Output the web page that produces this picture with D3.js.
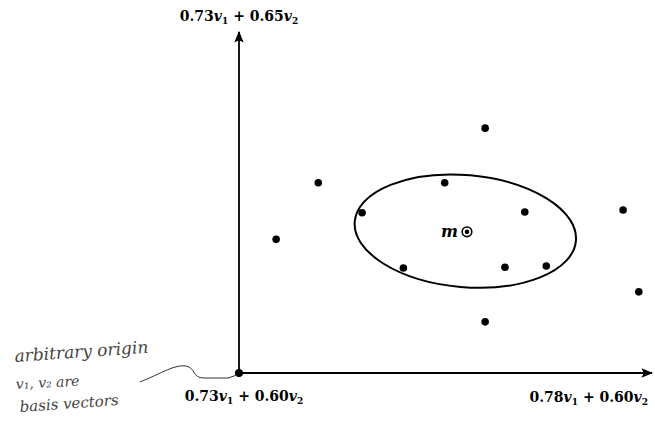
<!DOCTYPE html>
<html>
<head>
<meta charset="utf-8">
<script src="https://cdn.jsdelivr.net/npm/d3@7"></script>
<style>
  body { margin: 0; background: #fff; }
  svg { display: block; }
</style>
</head>
<body>
<div id="chart"></div>
<script>
// coefficient of v1 (horizontal) and v2 (vertical) for each sample point
var ptsV1 = [0.7345, 0.7396, 0.7449, 0.7499, 0.7549, 0.7598, 0.7598, 0.7622, 0.7646, 0.7672, 0.7765, 0.7784];
var ptsV2 = [0.6196, 0.6279, 0.6235, 0.6154, 0.6279, 0.6359, 0.6075, 0.6155, 0.6236, 0.6157, 0.6239, 0.6119];

var meanPt = [0.7576, 0.6207];
// ellipse: centre, half widths (in v1 / v2 units), tilt in degrees
var ellCentre = [0.7574, 0.6208];
var ellHalf = [0.01344, 0.00821];
var ellTilt = 5;

var v1Range = [0.73, 0.78];
var v2Range = [0.60, 0.65];
var originLabel = ["0.73", "1", "0.60", "2"];
var xEndLabel = ["0.78", "1", "0.60", "2"];
var yEndLabel = ["0.73", "1", "0.65", "2"];
var notes = ["arbitrary origin", "v\u2081, v\u2082 are", "basis vectors"];

var W = 655, H = 438;
var x = d3.scaleLinear().domain(v1Range).range([239, 652]);
var y = d3.scaleLinear().domain(v2Range).range([373, 32]);

var svg = d3.select("#chart").append("svg")
    .attr("width", W)
    .attr("height", H);

// arrow heads
var defs = svg.append("defs");
defs.append("marker")
    .attr("id", "arr")
    .attr("viewBox", "0 0 10 10")
    .attr("refX", 9).attr("refY", 5)
    .attr("markerWidth", 6.5).attr("markerHeight", 6.5)
    .attr("markerUnits", "strokeWidth")
    .attr("orient", "auto")
  .append("path")
    .attr("d", "M0,1 L10,5 L0,9 L2,5 Z")
    .attr("fill", "#000");

// axes
svg.append("line")
    .attr("x1", x(v1Range[0])).attr("y1", y(v2Range[0]))
    .attr("x2", x(v1Range[1])).attr("y2", y(v2Range[0]))
    .attr("stroke", "#000").attr("stroke-width", 1.8)
    .attr("marker-end", "url(#arr)");
svg.append("line")
    .attr("x1", x(v1Range[0])).attr("y1", y(v2Range[0]))
    .attr("x2", x(v1Range[0])).attr("y2", y(v2Range[1]))
    .attr("stroke", "#000").attr("stroke-width", 1.8)
    .attr("marker-end", "url(#arr)");

// labels like 0.73v1 + 0.60v2
function vecLabel(parts, px, py, anchor) {
  var t = svg.append("text")
      .attr("x", px).attr("y", py)
      .attr("text-anchor", anchor)
      .attr("font-family", "DejaVu Serif")
      .attr("font-weight", "bold")
      .attr("font-size", 14);
  t.append("tspan").text(parts[0]);
  t.append("tspan").attr("font-style", "italic").text("v");
  t.append("tspan").attr("font-size", 9).attr("dy", 3).text(parts[1]);
  t.append("tspan").attr("dy", -3).text("\u00a0+\u00a0" + parts[2]);
  t.append("tspan").attr("font-style", "italic").text("v");
  t.append("tspan").attr("font-size", 9).attr("dy", 3).text(parts[3]);
}
vecLabel(yEndLabel, x(v1Range[0]), 21, "middle");
vecLabel(originLabel, x(v1Range[0]) + 5, 401, "middle");
vecLabel(xEndLabel, x(v1Range[1]) - 4, 402, "end");

// ellipse
var cx = x(ellCentre[0]), cy = y(ellCentre[1]);
svg.append("ellipse")
    .attr("cx", cx).attr("cy", cy)
    .attr("rx", x(ellCentre[0] + ellHalf[0]) - cx)
    .attr("ry", cy - y(ellCentre[1] + ellHalf[1]))
    .attr("transform", "rotate(" + ellTilt + "," + cx + "," + cy + ")")
    .attr("fill", "none")
    .attr("stroke", "#000")
    .attr("stroke-width", 2);

// sample points
svg.selectAll("circle.pt")
    .data(d3.range(ptsV1.length))
  .enter().append("circle")
    .attr("class", "pt")
    .attr("cx", function(i) { return x(ptsV1[i]); })
    .attr("cy", function(i) { return y(ptsV2[i]); })
    .attr("r", 3.8)
    .attr("fill", "#000");

// mean
svg.append("circle")
    .attr("cx", x(meanPt[0])).attr("cy", y(meanPt[1]))
    .attr("r", 4.8)
    .attr("fill", "none").attr("stroke", "#000").attr("stroke-width", 1.6);
svg.append("circle")
    .attr("cx", x(meanPt[0])).attr("cy", y(meanPt[1]))
    .attr("r", 2.3)
    .attr("fill", "#000");
svg.append("text")
    .attr("x", x(meanPt[0]) - 9).attr("y", y(meanPt[1]) + 5)
    .attr("text-anchor", "end")
    .attr("font-family", "DejaVu Serif")
    .attr("font-style", "italic")
    .attr("font-weight", "bold")
    .attr("font-size", 16)
    .text("m");

// origin dot
svg.append("circle")
    .attr("cx", x(v1Range[0])).attr("cy", y(v2Range[0]))
    .attr("r", 4)
    .attr("fill", "#000");

// handwritten note
var note = svg.append("g")
    .attr("font-family", "DejaVu Serif")
    .attr("font-style", "italic")
    .attr("fill", "#444");
note.append("text").attr("x", 15).attr("y", 362)
    .attr("font-size", 17).attr("transform", "rotate(-4,15,362)")
    .text(notes[0]);
note.append("text").attr("x", 16).attr("y", 389)
    .attr("font-size", 14).attr("transform", "rotate(-3,16,389)")
    .text(notes[1]);
note.append("text").attr("x", 20).attr("y", 412)
    .attr("font-size", 15).attr("transform", "rotate(-4,20,412)")
    .text(notes[2]);
svg.append("path")
    .attr("d", "M140,382 C160,374 175,364 186,366 C196,368 192,378 204,378 L228,378 L237,375")
    .attr("fill", "none")
    .attr("stroke", "#333")
    .attr("stroke-width", 1);
</script>
</body>
</html>
